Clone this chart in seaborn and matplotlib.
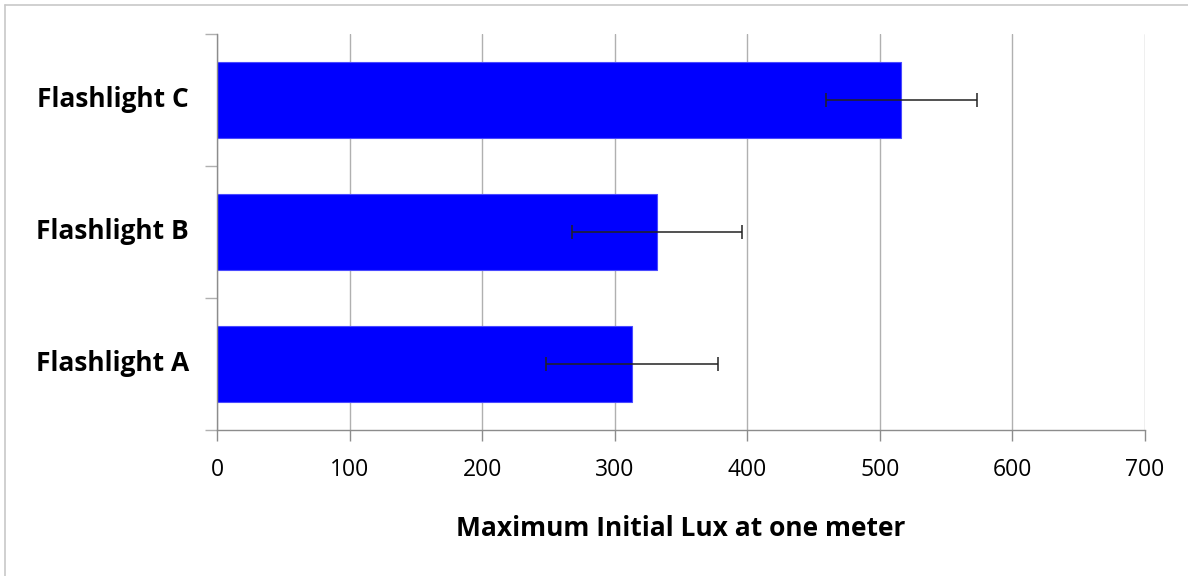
import matplotlib
matplotlib.use("Agg")
import matplotlib.pyplot as plt
import matplotlib.transforms as mtransforms
import seaborn as sns
import pandas as pd

# data
flashlights = ["Flashlight C", "Flashlight B", "Flashlight A"]
max_lux = [516, 332, 313]
lux_err = [57, 64, 65]
x_ticks = [0, 100, 200, 300, 400, 500, 600, 700]

df = pd.DataFrame({"flashlight": flashlights, "lux": max_lux, "err": lux_err})

sns.set_style("white")
plt.rcParams["font.family"] = ["Open Sans", "DejaVu Sans"]
plt.rcParams["text.color"] = "black"
plt.rcParams["xtick.color"] = "black"

fig = plt.figure(figsize=(11.88, 5.76), dpi=100)
ax = fig.add_axes([0.1827, 0.2535, 0.7811, 0.6875])

sns.barplot(data=df, x="lux", y="flashlight", order=flashlights,
            color="#0000FF", saturation=1, width=0.57, errorbar=None,
            edgecolor="#4a4aff", linewidth=0.8, ax=ax, zorder=2)

# error bars
ax.errorbar(df["lux"], range(len(df)), xerr=df["err"], fmt="none",
            ecolor="#222222", elinewidth=1.1, capsize=5, capthick=1.1, zorder=3)

ax.set_xlim(0, 700)
ax.set_ylim(2.5, -0.5)
ax.set_xticks(x_ticks)
ax.set_xticklabels([str(t) for t in x_ticks], fontsize=16.5, color="black")
ax.set_yticks([-0.5, 0.5, 1.5, 2.5])
ax.set_yticklabels([])

# category labels, right edge ~28 px left of the axis
offset = mtransforms.ScaledTranslation(-28 / 100, 0, fig.dpi_scale_trans)
for i, name in enumerate(flashlights):
    ax.text(0, i, name, transform=ax.get_yaxis_transform() + offset,
            ha="right", va="center", fontsize=19, fontweight="bold", color="black")

ax.grid(axis="x", color="#b0b0b0", linewidth=1, zorder=0)
ax.set_axisbelow(True)
sns.despine(ax=ax, top=True, right=True)
for s in ["left", "bottom"]:
    ax.spines[s].set_color("#8c8c8c")
    ax.spines[s].set_linewidth(1)
ax.tick_params(axis="x", bottom=True, direction="out", length=8, width=1,
               color="#8c8c8c", labelcolor="black", pad=12)
ax.tick_params(axis="y", left=True, direction="out", length=9, width=1,
               color="#b0b0b0")

ax.set_xlabel("Maximum Initial Lux at one meter", fontsize=19, fontweight="bold",
              labelpad=24, color="black")
ax.set_ylabel("")

# thin frame lines at the top and left of the picture
fig.add_artist(plt.Line2D([0.004, 1], [0.991, 0.991], color="#c8c8c8", lw=1.2))
fig.add_artist(plt.Line2D([0.0045, 0.0045], [0, 0.991], color="#c8c8c8", lw=1.2))

fig.savefig("out.png", dpi=100)
